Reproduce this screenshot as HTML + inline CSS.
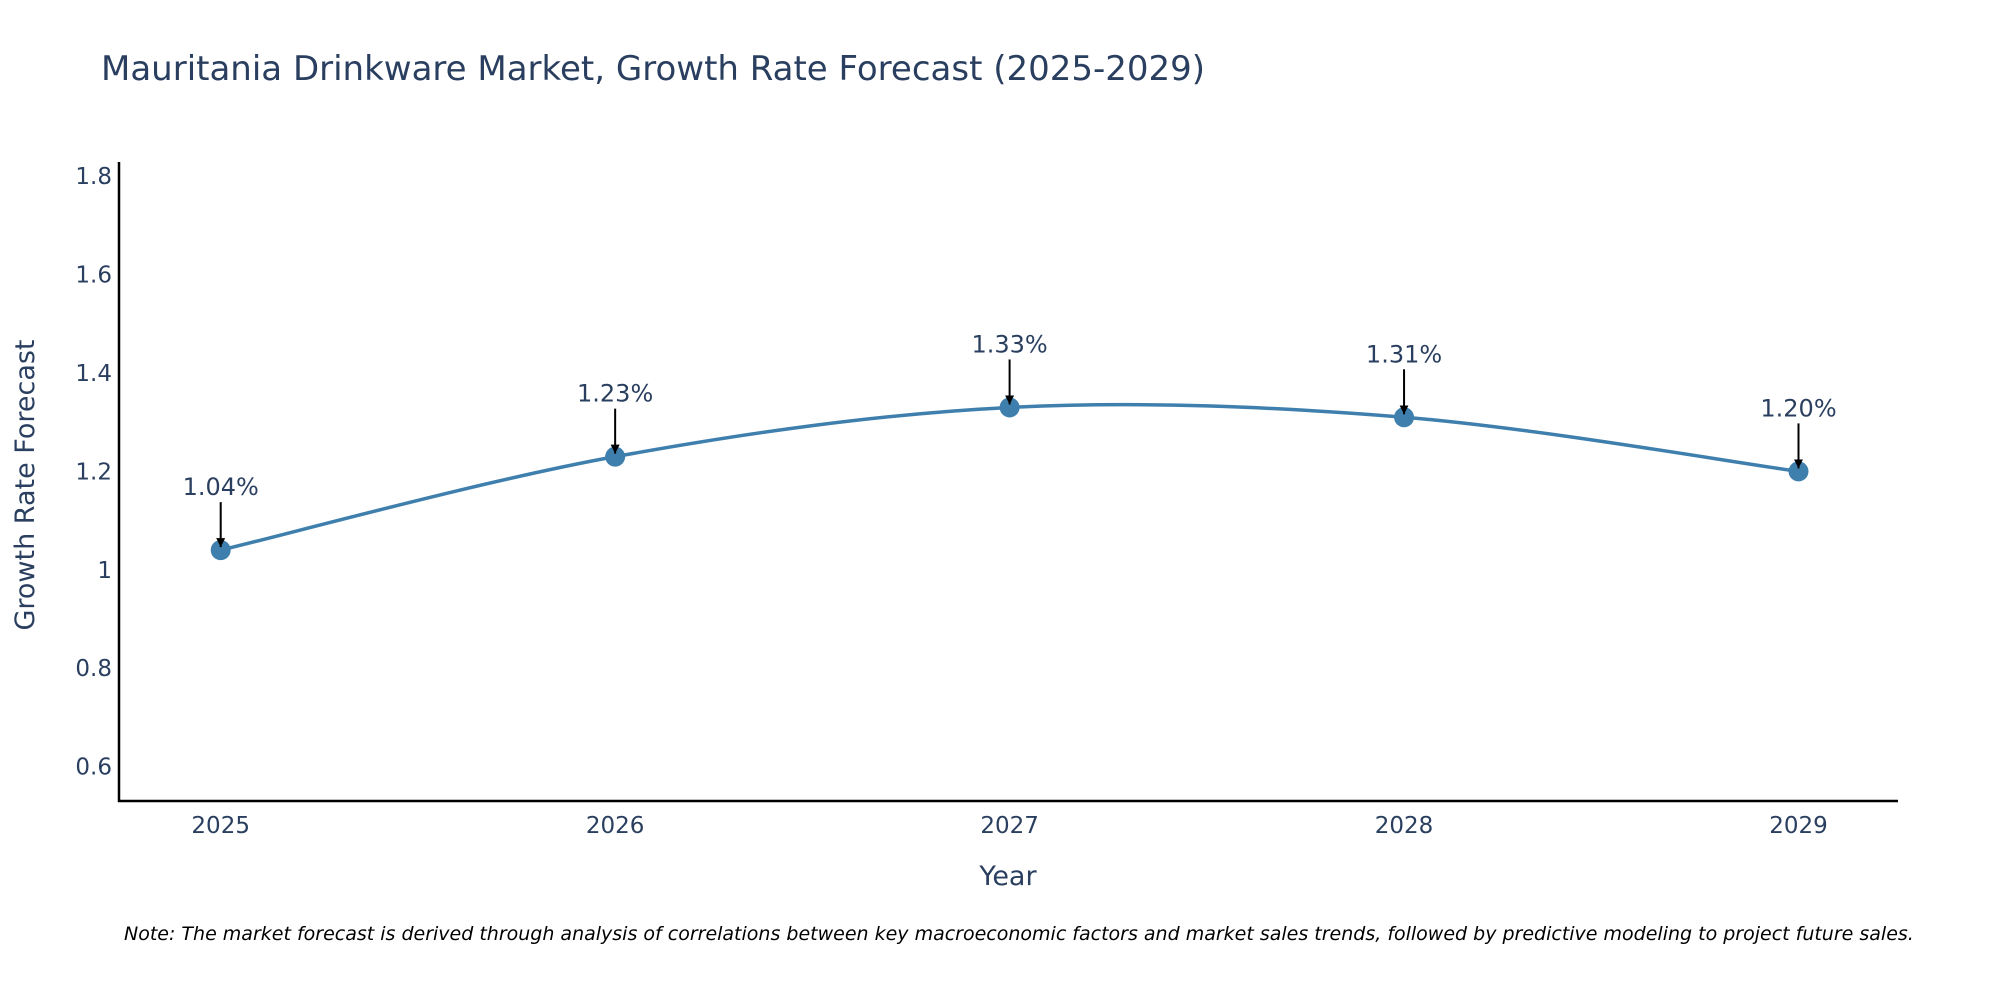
<!DOCTYPE html>
<html><head><meta charset="utf-8"><style>
body{margin:0;background:#fff;}
svg{display:block;font-family:"DejaVu Sans","Liberation Sans",sans-serif;}
</style></head><body>
<svg id="chart" width="2000" height="1000" viewBox="0 0 2000 1000">
<defs><marker id="ah" viewBox="0 0 10 10" refX="10" refY="5" markerWidth="4.5" markerHeight="4.5" orient="auto" markerUnits="strokeWidth"><path d="M0,0 L10,5 L0,10 z" fill="#000"/></marker></defs>
<text x="101" y="80" font-size="34" fill="#2a3f5f">Mauritania Drinkware Market, Growth Rate Forecast (2025-2029)</text>
<g id="yticks"></g>
<g id="xticks"></g>
<line x1="119" y1="162" x2="119" y2="802" stroke="#000" stroke-width="2.5"/>
<line x1="118" y1="801" x2="1898" y2="801" stroke="#000" stroke-width="2.5"/>
<path id="line" fill="none" stroke="#3f7fad" stroke-width="3.5"/>
<g id="points"></g>
<g id="annots"></g>
<text x="1008" y="885" font-size="27" fill="#2a3f5f" text-anchor="middle">Year</text>
<text transform="translate(34,485) rotate(-90)" font-size="27" fill="#2a3f5f" text-anchor="middle">Growth Rate Forecast</text>
<text x="124" y="940" font-size="19" font-style="italic" fill="#000">Note: The market forecast is derived through analysis of correlations between key macroeconomic factors and market sales trends, followed by predictive modeling to project future sales.</text>
</svg>
<script>
const years = [2025, 2026, 2027, 2028, 2029];
const values = [1.04, 1.23, 1.33, 1.31, 1.20];
const labels = ["1.04%", "1.23%", "1.33%", "1.31%", "1.20%"];
const yTicks = [0.6, 0.8, 1, 1.2, 1.4, 1.6, 1.8];
const yTickLabels = ["0.6", "0.8", "1", "1.2", "1.4", "1.6", "1.8"];

const NS = "http://www.w3.org/2000/svg";
function xs(yr){ return 220.7 + (yr - 2025) * 394.45; }
function ys(v){ return 766.6 - (v - 0.6) * 492; }
function mk(tag, attrs, parent){ const e = document.createElementNS(NS, tag); for (const k in attrs) e.setAttribute(k, attrs[k]); parent.appendChild(e); return e; }

const yg = document.getElementById('yticks');
yTicks.forEach((t, i) => {
  const tx = mk('text', {x: 112, y: ys(t) + 8, 'font-size': 23, fill: '#2a3f5f', 'text-anchor': 'end'}, yg);
  tx.textContent = yTickLabels[i];
  
  
});
const xg = document.getElementById('xticks');
years.forEach(y => {
  const tx = mk('text', {x: xs(y), y: 833, 'font-size': 23, fill: '#2a3f5f', 'text-anchor': 'middle'}, xg);
  tx.textContent = y;
  
  
});

const pts = years.map((y, i) => [xs(y), ys(values[i])]);
let d = "M" + pts[0][0] + "," + pts[0][1];
const tension = 1/6;
for (let i = 0; i < pts.length - 1; i++) {
  const p0 = pts[Math.max(0, i-1)], p1 = pts[i], p2 = pts[i+1], p3 = pts[Math.min(pts.length-1, i+2)];
  const c1 = [p1[0] + (p2[0]-p0[0])*tension, p1[1] + (p2[1]-p0[1])*tension];
  const c2 = [p2[0] - (p3[0]-p1[0])*tension, p2[1] - (p3[1]-p1[1])*tension];
  d += " C" + c1 + " " + c2 + " " + p2;
}
document.getElementById('line').setAttribute('d', d);

const pg = document.getElementById('points');
const ag = document.getElementById('annots');
pts.forEach((p, i) => {
  const c = mk('circle', {cx: p[0], cy: p[1], r: 10, fill: '#3f7fad'}, pg);
  
  
  const ln = mk('line', {x1: p[0], y1: p[1] - 48, x2: p[0], y2: p[1] - 3, stroke: '#000', 'stroke-width': 2, 'marker-end': 'url(#ah)'}, ag);
  
  
  const t = mk('text', {x: p[0], y: p[1] - 55, 'font-size': 24, fill: '#2a3f5f', 'text-anchor': 'middle'}, ag);
  t.textContent = labels[i];
  
  
});
</script>
</body></html>
